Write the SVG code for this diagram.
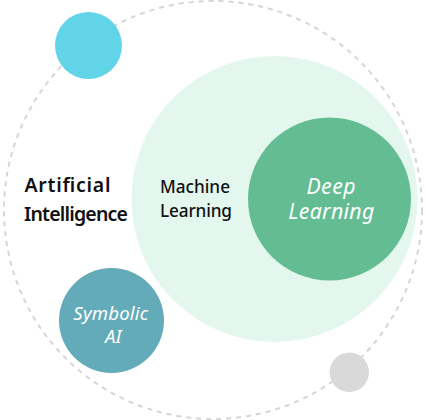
<svg xmlns="http://www.w3.org/2000/svg" width="426" height="420" viewBox="0 0 426 420">
  <style>
    .lbl { font-family: "Noto Sans", "Open Sans", "Liberation Sans", sans-serif; }
    .dark { fill: #111111; }
    .light { fill: #ffffff; font-style: italic; }
  </style>
  <rect width="426" height="420" fill="#ffffff"/>

  <!-- outer AI boundary -->
  <g id="connectors">
    <circle cx="213" cy="210" r="209" fill="none" stroke="#d6d6d6" stroke-width="2" stroke-dasharray="5 5"/>
  </g>

  <g id="ai">
    <text class="lbl dark" x="24.5" y="191.5" font-size="19.5" font-weight="600" textLength="86" lengthAdjust="spacing">Artificial</text>
    <text class="lbl dark" x="24" y="220.5" font-size="19.5" font-weight="600" textLength="104" lengthAdjust="spacing">Intelligence</text>
  </g>

  <g id="ml">
    <circle cx="274.5" cy="199" r="143" fill="#e4f7ee"/>
    <text class="lbl dark" x="160" y="192.7" font-size="17.2" font-weight="500" textLength="70" lengthAdjust="spacing">Machine</text>
    <text class="lbl dark" x="160" y="217" font-size="17.2" font-weight="500" textLength="72" lengthAdjust="spacing">Learning</text>
  </g>

  <g id="dl">
    <circle cx="329.5" cy="199" r="81.5" fill="#63bc92"/>
    <text class="lbl light" x="306.5" y="193.7" font-size="21.3" textLength="49" lengthAdjust="spacing">Deep</text>
    <text class="lbl light" x="288.3" y="218.7" font-size="21.3" textLength="86" lengthAdjust="spacing">Learning</text>
  </g>

  <g id="symbolic">
    <circle cx="111.5" cy="320.5" r="52.5" fill="#64abba"/>
    <text class="lbl light" x="73.3" y="320" font-size="18.6" textLength="75" lengthAdjust="spacing">Symbolic</text>
    <text class="lbl light" x="105" y="343.3" font-size="18.6" textLength="16.5" lengthAdjust="spacing">AI</text>
  </g>

  <g id="dot-cyan">
    <circle cx="88.5" cy="45.5" r="33.5" fill="#5dd3e6" fill-opacity="0.97"/>
  </g>

  <g id="dot-grey">
    <circle cx="349.3" cy="372.3" r="19.7" fill="#d9d9d9"/>
  </g>
</svg>
